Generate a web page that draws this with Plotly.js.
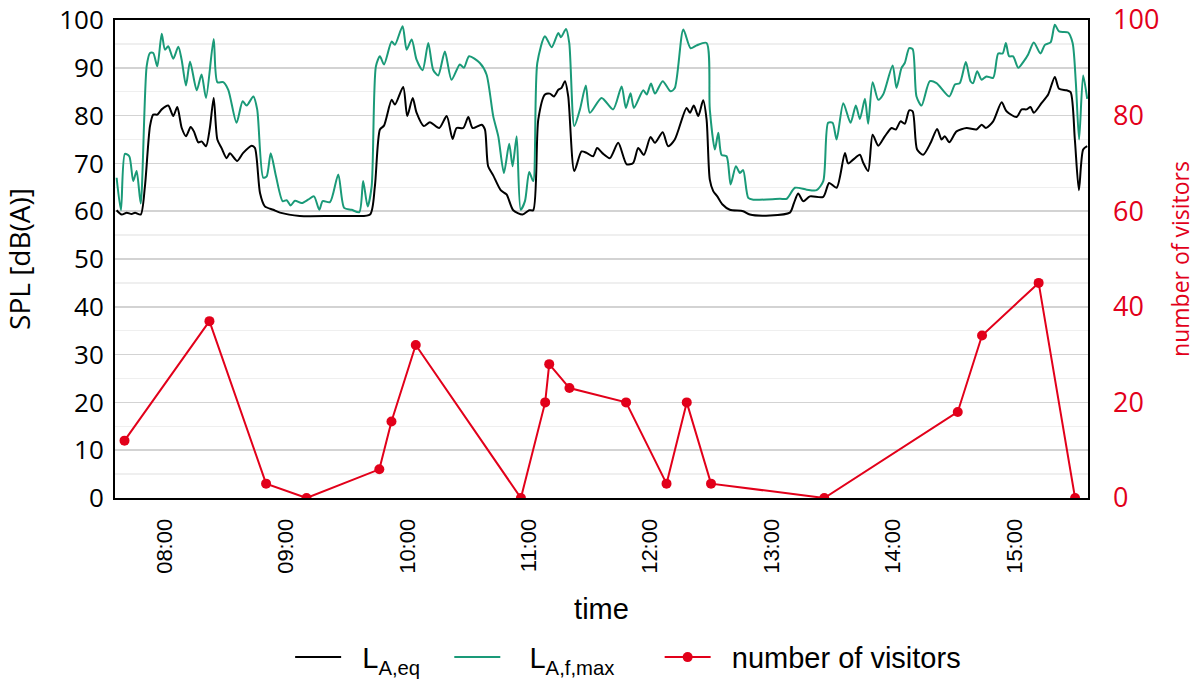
<!DOCTYPE html>
<html>
<head>
<meta charset="utf-8">
<script src="https://cdn.plot.ly/plotly-3.0.1.min.js"></script>
<style>html,body{margin:0;padding:0;background:#fff}#chart{width:1198px;height:679px}</style>
</head>
<body>
<div id="chart"></div>
<script>
const day = '2024-05-01 ';

const laeqTime = ['07:36:06','07:38:36','07:41:06','07:43:30','07:45:12','07:48:00','07:50:06','07:52:36','07:54:12','07:56:12','07:58:24','08:01:36','08:04:06','08:06:06','08:08:18','08:10:24','08:12:42','08:14:18','08:16:30','08:18:06','08:20:18','08:22:12','08:24:06','08:25:54','08:28:00','08:30:30','08:32:06','08:35:42','08:38:42','08:42:54','08:44:30','08:47:00','08:49:24','08:53:30','08:56:54','09:06:42','09:23:12','09:33:06','09:41:24','09:43:48','09:46:18','09:48:18','09:52:06','09:53:42','09:57:48','09:59:48','10:02:30','10:04:24','10:08:00','10:11:00','10:15:36','10:19:18','10:22:12','10:24:12','10:27:30','10:30:00','10:32:06','10:36:36','10:38:12','10:39:48','10:42:18','10:46:00','10:48:54','10:52:12','10:56:48','11:00:06','11:02:06','11:04:36','11:07:54','11:10:18','11:12:18','11:14:30','11:16:06','11:17:48','11:19:24','11:22:24','11:26:00','11:28:30','11:31:42','11:33:42','11:36:24','11:40:00','11:44:06','11:48:18','11:51:30','11:54:00','11:56:48','12:00:06','12:02:18','12:06:06','12:08:48','12:12:06','12:17:54','12:19:36','12:21:30','12:23:42','12:26:06','12:27:48','12:29:24','12:31:06','12:33:06','12:35:42','12:39:18','12:45:54','12:49:12','12:59:06','13:09:00','13:11:00','13:13:06','13:15:36','13:18:54','13:25:30','13:28:24','13:32:06','13:36:12','13:37:48','13:40:18','13:43:36','13:45:12','13:47:42','13:49:54','13:52:42','13:56:00','13:59:18','14:01:24','14:03:42','14:05:48','14:08:00','14:09:42','14:11:54','14:14:54','14:18:36','14:21:48','14:24:00','14:25:36','14:27:48','14:31:24','14:36:24','14:41:18','14:43:48','14:45:54','14:49:30','14:53:42','14:56:06','15:01:06','15:03:36','15:06:00','15:08:00','15:09:36','15:13:24','15:16:42','15:20:00','15:22:06','15:25:48','15:27:48','15:29:54','15:31:54','15:34:00','15:36:00'];
const laeqValue = [60.2,59.3,59.7,59.4,59.7,59.3,65.2,77.8,80.2,80.2,81.3,82.1,79.9,81.8,77.4,75.7,77.6,76.7,74.4,74.6,73.6,77.4,83.7,75.0,73.2,71.1,72.1,70.5,72.2,73.7,73.2,63.8,61.0,60.3,59.7,59.0,59.0,59.0,59.3,65.2,77.1,77.9,83.3,82.3,86.0,79.9,83.7,80.6,77.8,78.6,77.4,79.9,75.1,77.4,77.4,79.7,77.4,78.1,77.1,69.4,67.5,64.4,63.5,60.2,59.3,60.2,60.2,79.2,84.4,84.6,84.0,85.4,85.8,87.2,84.0,68.4,72.5,72.2,71.5,73.2,72.1,71.1,74.3,69.8,70.1,73.2,71.8,75.5,74.3,76.5,73.6,75.0,81.6,80.6,82.1,79.9,83.2,79.2,66.6,64.2,63.1,61.4,60.3,60.0,59.3,59.1,59.7,61.7,63.7,62.1,63.1,63.0,65.9,64.9,72.2,70.0,70.8,71.8,70.2,68.4,76.0,73.7,75.7,77.4,77.1,78.8,78.3,81.1,80.9,72.9,71.8,74.3,77.2,75.0,75.7,74.4,76.7,77.4,77.1,78.1,77.4,78.8,82.8,80.9,79.7,81.3,81.3,81.8,80.6,82.6,84.4,88.1,85.6,85.3,84.9,75.0,64.4,72.9,73.6];

const lafmaxTime = ['07:36:06','07:38:15','07:40:12','07:42:21','07:44:18','07:46:00','07:48:00','07:50:57','07:52:36','07:54:12','07:56:12','07:58:24','08:00:00','08:01:36','08:04:06','08:06:36','08:08:15','08:10:24','08:12:24','08:15:42','08:18:06','08:20:18','08:24:06','08:25:54','08:28:48','08:31:18','08:35:24','08:38:24','08:40:24','08:43:42','08:45:36','08:48:36','08:50:18','08:52:18','08:54:54','08:58:12','09:00:12','09:02:06','09:04:18','09:07:36','09:10:48','09:13:42','09:16:18','09:18:00','09:21:36','09:25:42','09:28:36','09:32:18','09:36:06','09:38:00','09:40:12','09:42:12','09:44:18','09:46:18','09:48:18','09:52:06','09:53:42','09:57:30','09:59:30','10:02:00','10:04:24','10:07:24','10:10:12','10:12:36','10:15:06','10:18:24','10:21:42','10:25:48','10:27:48','10:30:24','10:35:42','10:39:00','10:42:18','10:44:48','10:47:36','10:50:12','10:51:54','10:53:54','10:55:54','10:58:00','11:00:06','11:02:06','11:04:06','11:07:54','11:11:12','11:14:30','11:15:48','11:18:18','11:19:54','11:22:24','11:25:12','11:28:06','11:30:06','11:35:54','11:41:36','11:45:48','11:47:54','11:50:12','11:51:54','11:56:30','11:58:12','12:00:18','12:02:18','12:06:06','12:10:00','12:12:06','12:16:18','12:19:54','12:22:54','12:27:48','12:29:24','12:31:54','12:33:36','12:35:12','12:37:42','12:39:42','12:42:18','12:44:18','12:45:54','12:48:24','12:50:54','13:04:06','13:07:24','13:11:30','13:17:18','13:22:12','13:25:30','13:27:54','13:30:06','13:32:06','13:35:24','13:39:00','13:41:36','13:43:36','13:46:06','13:47:42','13:49:54','13:52:42','13:55:06','13:59:48','14:01:42','14:04:12','14:05:48','14:08:00','14:09:42','14:11:36','14:14:06','14:18:12','14:21:30','14:27:48','14:30:36','14:33:00','14:36:00','14:38:18','14:39:36','14:41:36','14:43:48','14:46:12','14:49:30','14:52:00','14:54:12','14:55:48','14:57:24','14:59:24','15:01:54','15:04:42','15:06:48','15:09:36','15:12:54','15:15:06','15:17:54','15:20:00','15:22:06','15:26:36','15:28:48','15:30:24','15:32:00','15:34:00','15:36:00'];
const lafmaxValue = [67.0,60.2,72.0,71.5,66.3,68.4,61.6,90.3,93.1,93.1,90.3,97.1,93.8,94.5,91.9,94.4,91.7,86.3,91.3,85.3,88.6,83.7,96.0,87.0,87.0,85.4,78.5,83.0,82.1,84.0,81.3,67.0,67.3,72.1,67.3,62.1,62.3,61.2,62.2,61.7,62.4,63.1,60.3,62.1,61.9,67.7,60.7,60.3,59.8,66.3,61.0,65.2,90.3,92.4,90.7,95.5,94.8,98.7,93.8,95.9,91.7,89.5,95.2,89.6,88.4,93.4,87.5,90.7,90.0,92.4,91.0,88.6,79.9,75.7,68.0,74.1,69.4,75.7,60.3,62.1,68.2,66.3,91.0,96.6,94.3,97.3,96.4,98.1,95.2,77.8,81.3,86.3,80.6,83.7,81.3,86.1,81.6,84.7,81.6,85.3,84.4,86.7,84.6,87.2,85.1,85.8,98.0,94.1,94.7,95.2,81.3,72.9,76.4,71.8,71.5,65.6,69.4,68.0,68.6,62.8,62.4,62.6,62.6,64.9,64.5,64.4,66.3,78.5,78.5,75.0,82.6,78.5,82.1,79.3,83.5,78.3,87.0,83.3,84.4,90.5,85.8,90.0,91.0,94.1,93.9,84.0,82.1,87.2,86.8,84.0,86.5,86.8,91.2,87.2,86.8,89.3,87.5,88.2,87.9,93.0,93.0,95.2,92.4,92.4,90.0,91.4,92.8,95.3,93.0,94.8,95.3,99.0,97.6,97.4,95.2,86.8,75.0,88.4,83.5];

const visitorTime = ['07:40','08:22','08:50','09:10','09:46','09:52','10:04','10:56','11:08','11:10','11:20','11:48','12:08','12:18','12:30','13:26','14:32','14:44','15:12','15:30'];
const visitorCount = [12,37,3,0,6,16,32,0,20,28,23,20,3,20,3,0,18,34,45,0];

const seriesNames = ['L<sub>A,eq</sub>', 'L<sub>A,f,max</sub>', 'number of visitors'];

const axisFont = 'Open Sans, sans-serif';
const arial = 'Liberation Sans, Arial, sans-serif';
const red = '#e2001a';
const green = '#1a9a78';
const nb = n => '\u00A0'.repeat(n);

const traces = [
  {x: laeqTime.map(t => day + t), y: laeqValue, name: nb(2) + seriesNames[0] + nb(3), type: 'scatter', mode: 'lines',
   line: {color: '#000000', width: 2, shape: 'spline', smoothing: 0.7}},
  {x: lafmaxTime.map(t => day + t), y: lafmaxValue, name: nb(3) + seriesNames[1] + nb(5), type: 'scatter', mode: 'lines',
   line: {color: green, width: 2, shape: 'spline', smoothing: 0.7}},
  {x: visitorTime.map(t => day + t + ':00'), y: visitorCount, name: nb(2) + seriesNames[2], type: 'scatter', mode: 'lines+markers',
   yaxis: 'y2', line: {color: red, width: 2}, marker: {color: red, size: 10}}
];

const layout = {
  width: 1198, height: 679,
  margin: {l: 115, r: 110, t: 20, b: 181},
  paper_bgcolor: '#ffffff', plot_bgcolor: '#ffffff',
  showlegend: true,
  legend: {orientation: 'h', x: 0.18, xanchor: 'left', yref: 'container', y: 0.032, yanchor: 'middle',
    font: {family: arial, size: 29, color: '#000'}, itemwidth: 46, traceorder: 'normal'},
  xaxis: {
    type: 'date', automargin: false,
    range: [day + '07:35:18', day + '15:36:24'],
    tick0: day + '08:00:00', dtick: 3600000, tickformat: '%H:%M',
    tickangle: -90, tickfont: {family: arial, size: 22, color: '#000'},
    ticks: '', ticklabelstandoff: 10,
    showgrid: false, zeroline: false,
    showline: true, mirror: true, linecolor: '#000', linewidth: 2,
    title: {text: 'time', font: {family: arial, size: 29, color: '#000'}, standoff: 26}
  },
  yaxis: {
    range: [0, 100], dtick: 10, tick0: 0, automargin: false,
    tickfont: {family: axisFont, size: 26, color: '#000'},
    ticks: '', ticklabelstandoff: 4,
    showgrid: true, gridcolor: '#d3d3d3', gridwidth: 1.5,
    minor: {dtick: 5, showgrid: true, gridcolor: '#efefef', gridwidth: 1.5},
    zeroline: false, showline: true, mirror: true, linecolor: '#000', linewidth: 2,
    title: {text: 'SPL [dB(A)]', font: {family: axisFont, size: 28, color: '#000'}, standoff: 21}
  },
  yaxis2: {
    overlaying: 'y', side: 'right', automargin: false,
    range: [0, 100], dtick: 20, tick0: 0,
    tickfont: {family: axisFont, size: 27, color: red},
    ticks: '', ticklabelstandoff: 24, ticklabeloverflow: 'allow',
    showgrid: false, zeroline: false, showline: false,
    title: {text: 'number of visitors', font: {family: axisFont, size: 23, color: red}, standoff: 14}
  }
};

Plotly.newPlot('chart', traces, layout, {displayModeBar: false, staticPlot: true});
</script>
</body>
</html>
